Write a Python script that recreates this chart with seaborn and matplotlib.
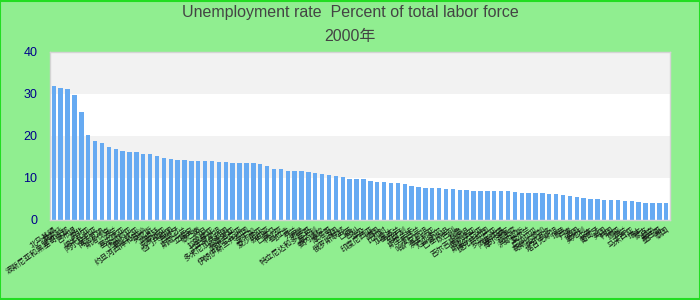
import matplotlib
matplotlib.use("Agg")
import matplotlib.pyplot as plt
import seaborn as sns
import pandas as pd
from matplotlib.patches import Rectangle

countries = [
    "北马其顿", "莱索托", "波斯尼亚和黑塞哥维那", "吉布提", "南非", "纳米比亚",
    "阿尔及利亚", "博茨瓦纳", "斯洛伐克", "波兰", "塞尔维亚", "保加利亚",
    "哥伦比亚", "约旦河西岸和加沙", "突尼斯", "阿根廷", "克罗地亚", "也门共和国",
    "西班牙", "斯威士兰", "立陶宛", "黎巴嫩", "约旦", "拉脱维亚",
    "土库曼斯坦", "多米尼加共和国", "格鲁吉亚", "阿尔巴尼亚", "伊朗伊斯兰共和国", "牙买加",
    "爱沙尼亚", "叙利亚", "巴拿马", "利比亚", "乌拉圭", "芬兰",
    "希腊", "特立尼达和多巴哥", "意大利", "委内瑞拉", "摩洛哥", "法国",
    "俄罗斯联邦", "巴西", "智利", "埃及", "印度尼西亚", "德国",
    "比利时", "加拿大", "乌克兰", "匈牙利", "斯里兰卡", "新西兰",
    "哈萨克斯坦", "澳大利亚", "厄瓜多尔", "巴基斯坦", "以色列", "秘鲁",
    "吉尔吉斯斯坦", "玻利维亚", "斯洛文尼亚", "捷克共和国", "罗马尼亚", "阿塞拜疆",
    "摩尔多瓦", "菲律宾", "洪都拉斯", "爱尔兰", "尼加拉瓜", "哥斯达黎加",
    "萨尔瓦多", "塔吉克斯坦", "瑞典", "丹麦", "英国", "奥地利",
    "日本", "葡萄牙", "美国", "韩国", "挪威", "荷兰",
    "马来西亚", "瑞士", "蒙古", "越南", "墨西哥", "泰国",
]
rates = [
    31.8, 31.4, 31.1, 29.7, 25.7, 20.2, 18.8, 18.3, 17.3, 16.9,
    16.4, 16.2, 16.2, 15.7, 15.7, 15.2, 14.7, 14.5, 14.3, 14.3,
    14.0, 14.0, 14.0, 14.0, 13.8, 13.8, 13.5, 13.5, 13.5, 13.5,
    13.3, 12.8, 12.1, 12.1, 11.6, 11.6, 11.6, 11.4, 11.2, 10.9,
    10.7, 10.5, 10.2, 9.7, 9.7, 9.7, 9.3, 9.0, 9.0, 8.8,
    8.8, 8.55, 8.1, 7.8, 7.6, 7.6, 7.6, 7.4, 7.4, 7.1,
    7.1, 6.9, 6.9, 6.9, 6.9, 6.9, 6.9, 6.65, 6.4, 6.4,
    6.4, 6.4, 6.2, 6.2, 5.9, 5.7, 5.5, 5.2, 5.0, 5.0,
    4.75, 4.75, 4.75, 4.5, 4.5, 4.3, 4.0, 4.0, 4.0, 4.0,
]
title_line1 = "Unemployment rate  Percent of total labor force"
title_line2 = "2000年"
yticks = [0, 10, 20, 30, 40]

df = pd.DataFrame({"country": countries, "rate": rates})

sns.set_theme(style="white")
plt.rcParams["font.family"] = ["Liberation Sans Narrow", "Liberation Sans", "Noto Sans CJK SC", "DejaVu Sans"]

fig = plt.figure(figsize=(7, 3), dpi=100, facecolor="#90ee90")
ax = fig.add_axes([50 / 700, 80 / 300, 620 / 700, 168 / 300])
ax.set_facecolor("white")
ax.axhspan(10, 20, color="#f2f2f2", zorder=0, lw=0)
ax.axhspan(30, 40, color="#f2f2f2", zorder=0, lw=0)

sns.barplot(data=df, x="country", y="rate", color="#66aaf2", saturation=1,
            width=0.64, linewidth=0, ax=ax, zorder=2)

ax.set_ylim(0, 40)
ax.set_xlim(-0.55, len(countries) - 0.45)
ax.set_yticks(yticks)
ax.set_yticklabels([str(t) for t in yticks], color="#00008b", fontsize=9)
ax.tick_params(axis="y", length=0, pad=9)
ax.tick_params(axis="x", length=0, pad=4)
ax.set_xlabel("")
ax.set_ylabel("")
for lab in ax.get_xticklabels():
    lab.set_fontfamily(["Noto Sans CJK SC", "DejaVu Sans"])
    lab.set_fontsize(5.5)
    lab.set_rotation(35)
    lab.set_ha("right")
    lab.set_rotation_mode("anchor")
    lab.set_color("#111111")
for s in ax.spines.values():
    s.set_color("#d4d4d4")
    s.set_linewidth(1)

fig.text(0.5, 1 - 13 / 300, title_line1, ha="center", va="center",
         fontsize=11.5, color="#444444")
fig.text(0.5, 1 - 37 / 300, title_line2, ha="center", va="center",
         fontsize=11.5, color="#444444",
         fontfamily=["Liberation Sans Narrow", "Liberation Sans", "Noto Sans CJK SC", "DejaVu Sans"])

fig.patches.append(Rectangle((0.0007, 0.0017), 0.9986, 0.9966, transform=fig.transFigure,
                             fill=False, edgecolor="#22dd22", linewidth=1.5))

fig.savefig("out.png", dpi=100, facecolor=fig.get_facecolor())
